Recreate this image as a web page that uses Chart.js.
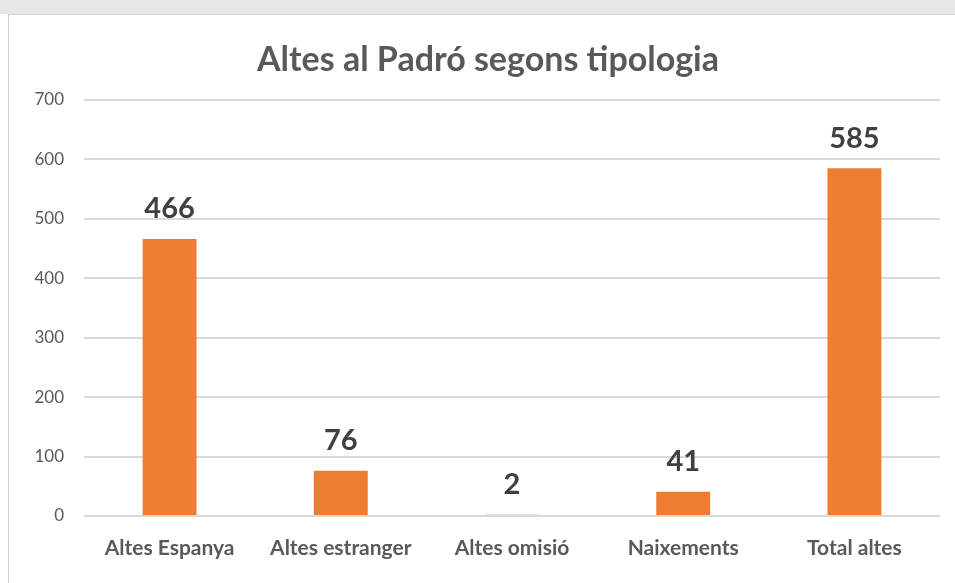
<!DOCTYPE html>
<html>
<head>
<meta charset="utf-8">
<script src="https://cdn.jsdelivr.net/npm/chart.js@4.4.0/dist/chart.umd.min.js"></script>
<style>
  html, body { margin: 0; padding: 0; width: 955px; height: 583px; overflow: hidden; background: #ffffff; }
  #band { position: absolute; left: 0; top: 0; width: 955px; height: 14px; background: #e7e7e7; }
  #frame { position: absolute; left: 8px; top: 14px; width: 960px; height: 580px; background: #ffffff; border: 1px solid #d4d4d4; }
  #chartWrap { position: absolute; left: 0; top: 0; width: 955px; height: 583px; }
</style>
</head>
<body>
<div id="band"></div>
<div id="frame"></div>
<div id="chartWrap"><canvas id="altesChart"></canvas></div>
<script>
// Altes al Padró per tipologia
let chartTitle = 'Altes al Padró segons tipologia';
let categories = ['Altes Espanya', 'Altes estranger', 'Altes omisió', 'Naixements', 'Total altes'];
let altes = [466, 76, 2, 41, 585];
let yTicks = [0, 100, 200, 300, 400, 500, 600, 700];

let fontFamily = 'Lato, "Open Sans", sans-serif';

// title centred on the frame, not the canvas
let frameTitle = {
    id: 'frameTitle',
    afterDraw(chart) {
        let ctx = chart.ctx;
        ctx.save();
        ctx.font = 'bold 34px ' + fontFamily;
        ctx.fillStyle = '#595959';
        ctx.textAlign = 'center';
        ctx.textBaseline = 'middle';
        ctx.fillText(chartTitle, 488, 60);
        ctx.restore();
    }
};

// simple value labels above each bar
let valueLabels = {
    id: 'valueLabels',
    afterDatasetsDraw(chart) {
        let ctx = chart.ctx;
        let meta = chart.getDatasetMeta(0);
        ctx.save();
        ctx.font = 'bold 29px ' + fontFamily;
        ctx.fillStyle = '#404040';
        ctx.textAlign = 'center';
        ctx.textBaseline = 'middle';
        meta.data.forEach((bar, i) => {
            ctx.fillText(altes[i], bar.x, bar.y - 30);
        });
        ctx.restore();
    }
};

let ctx = document.getElementById('altesChart').getContext('2d');
new Chart(ctx, {
    type: 'bar',
    data: {
        labels: categories,
        datasets: [{
            data: altes,
            backgroundColor: '#ED7D31',
            categoryPercentage: 0.63,
            barPercentage: 0.5
        }]
    },
    options: {
        responsive: true,
        maintainAspectRatio: false,
        animation: false,
        layout: { padding: { top: 100, right: 15, left: 0, bottom: 0 } },
        plugins: {
            legend: { display: false },
            tooltip: { enabled: false },
            title: { display: false }
        },
        scales: {
            x: {
                grid: { display: false, drawTicks: false },
                border: { display: false },
                ticks: {
                    color: '#595959',
                    font: { family: fontFamily, size: 21, weight: 'bold' },
                    padding: 20,
                    maxRotation: 0
                },
                afterFit(scale) { scale.height = 67; }
            },
            y: {
                min: 0,
                max: 700,
                afterBuildTicks(scale) { scale.ticks = yTicks.map(v => ({ value: v })); },
                grid: { color: '#d9d9d9', lineWidth: 2, drawTicks: false },
                border: { display: false },
                ticks: {
                    color: '#595959',
                    font: { family: fontFamily, size: 17 },
                    padding: 20
                },
                afterFit(scale) { scale.width = 84; }
            }
        }
    },
    plugins: [valueLabels, frameTitle]
});
</script>
</body>
</html>
